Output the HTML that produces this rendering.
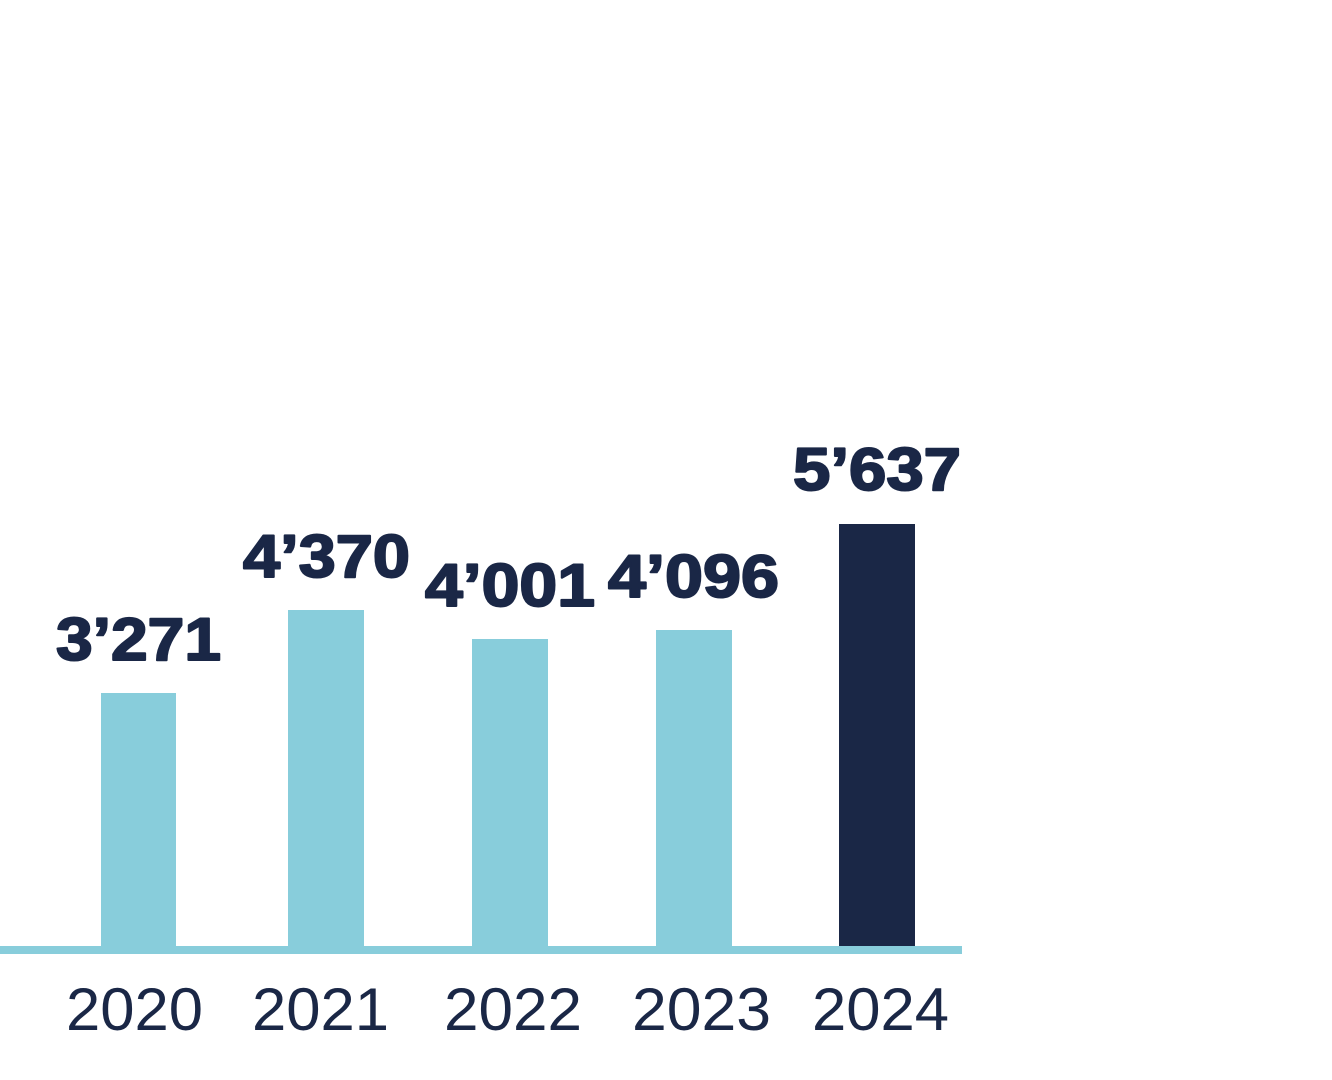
<!DOCTYPE html>
<html><head><meta charset="utf-8"><style>
html,body{margin:0;padding:0;background:#fff;}
svg{display:block}
</style></head><body>
<svg width="1332" height="1080" viewBox="0 0 1332 1080" xmlns="http://www.w3.org/2000/svg">
<rect x="0" y="0" width="1332" height="1080" fill="#fff"/>
<g fill="#88cddb">
<rect x="101" y="693" width="75" height="254"/>
<rect x="288" y="610" width="76" height="337"/>
<rect x="472" y="639" width="76" height="308"/>
<rect x="656" y="630" width="76" height="317"/>
</g>
<rect x="839" y="524" width="76" height="423" fill="#1a2746"/>
<rect x="0" y="946" width="962" height="8" fill="#88cddb"/>
<g font-family="Liberation Sans, sans-serif" font-weight="bold" font-size="60" fill="#1a2746" stroke="#1a2746" stroke-width="2" stroke-linejoin="round">
<text x="56" y="660" textLength="165" lengthAdjust="spacingAndGlyphs">3’271</text>
<text x="243" y="577" textLength="167" lengthAdjust="spacingAndGlyphs">4’370</text>
<text x="425" y="606" textLength="170" lengthAdjust="spacingAndGlyphs">4’001</text>
<text x="608" y="597" textLength="171" lengthAdjust="spacingAndGlyphs">4’096</text>
<text x="793" y="490" textLength="168" lengthAdjust="spacingAndGlyphs">5’637</text>
</g>
<g font-family="Liberation Sans, sans-serif" font-size="60" fill="#1a2746">
<text x="66" y="1030" textLength="137" lengthAdjust="spacingAndGlyphs">2020</text>
<text x="252" y="1030" textLength="137" lengthAdjust="spacingAndGlyphs">2021</text>
<text x="444" y="1030" textLength="138" lengthAdjust="spacingAndGlyphs">2022</text>
<text x="632" y="1030" textLength="139" lengthAdjust="spacingAndGlyphs">2023</text>
<text x="812" y="1030" textLength="137" lengthAdjust="spacingAndGlyphs">2024</text>
</g>
</svg>
</body></html>
